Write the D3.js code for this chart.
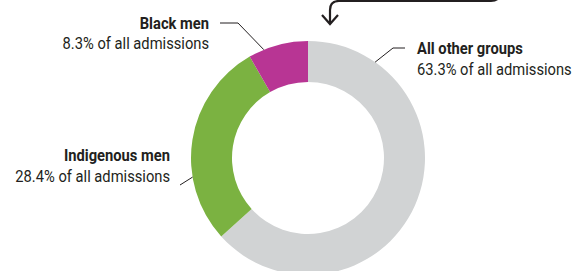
<!DOCTYPE html>
<html>
<head>
<meta charset="utf-8">
<script src="https://cdn.jsdelivr.net/npm/d3@7"></script>
<style>
  body { margin: 0; background: #fff; }
  text { font-family: Roboto, "Noto Sans", sans-serif; fill: #231f20; }
</style>
</head>
<body>
<div id="grafico"></div>
<script>
// Datos
const grupos = ['All other groups', 'Indigenous men', 'Black men'];
const porcentajes = [63.3, 28.4, 8.3];
const colores = ['#d1d3d4', '#7bb241', '#b83594'];

// Tamaño
const w = 580;
const h = 271;
const cx = 308;
const cy = 158;
const rExt = 117;
const rInt = 76;
const escalaX = 0.892;

// Posicion de etiquetas (angulo del punto en el anillo, codo de la linea, texto)
const etiquetas = [
  { ang: 35, codo: [393, 48], fin: [405, 48], tx: 417, ty: 54, anchor: 'start' },
  { ang: 260.6, codo: null, fin: [180, 185], tx: 170, ty: 161, anchor: 'end' },
  { ang: 337.8, codo: [238, 23], fin: [220, 23], tx: 209, ty: 28.5, anchor: 'end' }
];

const svg = d3.select('#grafico')
  .append('svg')
  .attr('width', w)
  .attr('height', h);

const pie = d3.pie().sort(null).value((d) => d);
const arc = d3.arc().innerRadius(rInt).outerRadius(rExt);

const g = svg.append('g')
  .attr('transform', 'translate(' + cx + ',' + cy + ')');

g.selectAll('path')
  .data(pie(porcentajes))
  .enter()
  .append('path')
  .attr('d', arc)
  .attr('fill', (d, i) => colores[i]);

// Lineas guia y textos
etiquetas.forEach(function (e, i) {
  const a = e.ang * Math.PI / 180;
  const p0 = [cx + rExt * Math.sin(a), cy - rExt * Math.cos(a)];
  const pts = [p0];
  if (e.codo) pts.push(e.codo);
  pts.push(e.fin);
  svg.append('path')
    .datum(pts)
    .attr('fill', 'none')
    .attr('stroke', '#231f20')
    .attr('stroke-width', 1)
    .attr('d', d3.line());

  const t = svg.append('g')
    .attr('transform', 'translate(' + e.tx + ',' + e.ty + ') scale(' + escalaX + ',1)');
  t.append('text')
    .attr('text-anchor', e.anchor)
    .style('font-size', '16.5px')
    .style('font-weight', 'bold')
    .text(grupos[i]);
  t.append('text')
    .attr('y', 21)
    .attr('text-anchor', e.anchor)
    .style('font-size', '16.5px')
    .text(porcentajes[i] + '% of all admissions');
});

// Flecha superior
svg.append('path')
  .attr('fill', 'none')
  .attr('stroke', '#231f20')
  .attr('stroke-width', 2.2)
  .attr('d', 'M500,-8 Q500,1 491,1 L339,1 Q330,1 330,10 L330,24');

svg.append('path')
  .attr('fill', 'none')
  .attr('stroke', '#231f20')
  .attr('stroke-width', 2.2)
  .attr('d', 'M322,15 L330,24 L338,15');
</script>
</body>
</html>
